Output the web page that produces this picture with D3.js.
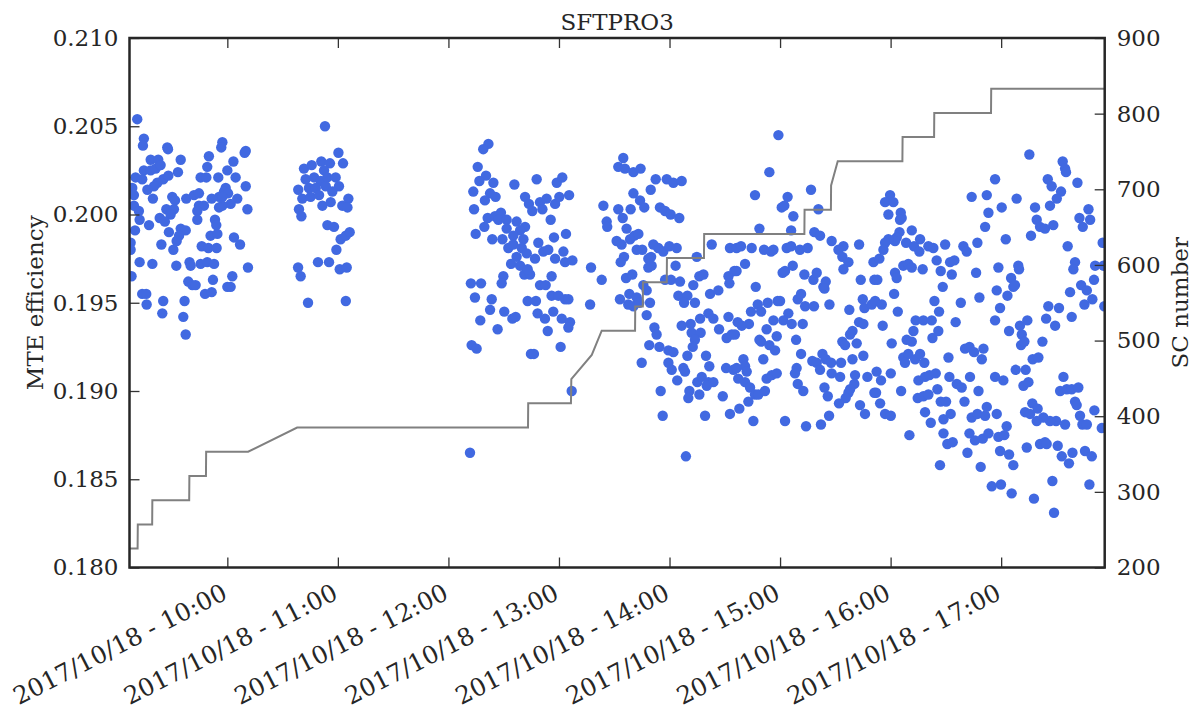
<!DOCTYPE html>
<html><head><meta charset="utf-8">
<script src="https://cdn.jsdelivr.net/npm/d3@7"></script>
<style>
body{margin:0;background:#fff}
svg{display:block}
text{font-family:"DejaVu Serif",serif;fill:#262626}
</style>
</head><body>
<svg id="chart" width="1195" height="716"></svg>
<script>
// ---------------- data ----------------
const chartTitle = "SFTPRO3";
const yLeftLabel = "MTE efficiency";
const yRightLabel = "SC number";
const timeDomain = [6.9, 536.2];           // minutes after 2017/10/18 09:00
const xTickHours = [10, 11, 12, 13, 14, 15, 16, 17];
const effTicks = [0.180, 0.185, 0.190, 0.195, 0.200, 0.205, 0.210];
const scTicks = [200, 300, 400, 500, 600, 700, 800, 900];

// SC number vs time [minute, SC]
const scSteps = [[6.9,225],[11.3,225],[11.4,257],[19.2,257],[19.3,289],[39.3,289],[39.4,321],[48.4,321],[48.5,353],[71.3,353],[97.9,385],[223.2,385],[223.3,417],[246.5,417],[246.7,449],[257.8,481],[263.2,513],[281.3,513],[281.4,545],[285.5,545],[285.6,577],[298.5,577],[298.6,609],[318.7,609],[318.8,641],[373.2,641],[373.3,673],[387.6,673],[387.7,705],[391.3,737],[426.4,737],[426.5,769],[443.6,769],[443.7,801],[474.5,801],[474.6,833],[536.2,833]];

// MTE efficiency vs time [minute, efficiency]
const mteSamples = [
[11.1,.2054],[14.7,.2043],[14.2,.2039],[27.4,.2038],[27.8,.2037],[57.3,.2041],[56.7,.2038],[70.0,.2036],[69.4,.2035],[34.7,.2031],
[18.4,.2031],[22.5,.2031],[50.0,.2033],[49.1,.2027],[63.3,.2030],[14.7,.2025],[18.4,.2025],[21.1,.2026],[23.8,.2028],[33.2,.2024],
[60.0,.2025],[10.2,.2021],[13.8,.2020],[45.5,.2021],[48.6,.2021],[55.1,.2021],[64.5,.2021],[25.2,.2020],[28.0,.2022],[22.0,.2018],
[20.2,.2016],[16.6,.2014],[8.4,.2015],[9.3,.2011],[70.0,.2016],[59.1,.2015],[58.2,.2013],[60.4,.2012],[55.5,.2010],[57.3,.2010],
[30.1,.2010],[31.6,.2008],[37.7,.2009],[41.9,.2011],[44.6,.2012],[51.5,.2009],[65.4,.2009],[19.6,.2009],[61.8,.2006],[9.3,.2005],
[12.0,.2002],[26.9,.2003],[31.0,.2003],[29.2,.2000],[44.6,.2005],[47.3,.2005],[43.7,.2002],[57.3,.2005],[55.5,.2004],[70.9,.2003],
[53.3,.1997],[54.0,.1994],[43.7,.1997],[23.3,.1998],[26.1,.1996],[12.4,.1997],[17.5,.1994],[9.9,.1991],[28.3,.1990],[34.7,.1992],
[37.4,.1991],[50.9,.1988],[54.6,.1989],[33.8,.1988],[32.5,.1985],[63.6,.1987],[66.9,.1983],[24.2,.1983],[7.5,.1984],[7.5,.1980],
[30.7,.1980],[46.1,.1982],[49.7,.1981],[54.2,.1981],[12.4,.1973],[19.3,.1972],[32.3,.1971],[39.5,.1973],[40.1,.1971],[45.5,.1972],
[49.1,.1973],[52.8,.1972],[71.2,.1970],[8.0,.1965],[38.8,.1962],[41.0,.1960],[42.8,.1960],[52.2,.1963],[62.7,.1965],[60.0,.1959],
[61.8,.1959],[47.9,.1955],[51.5,.1956],[13.8,.1955],[16.0,.1955],[16.2,.1949],[25.2,.1951],[24.7,.1944],[36.8,.1951],[36.1,.1942],
[37.4,.1932],
[113.0,.2050],[120.3,.2035],[122.8,.2029],[101.6,.2026],[105.8,.2028],[111.0,.2030],[115.7,.2029],[112.5,.2025],[102.5,.2020],[107.1,.2021],
[110.7,.2019],[114.3,.2021],[118.8,.2021],[98.5,.2014],[104.3,.2015],[108.0,.2015],[113.4,.2016],[120.6,.2016],[117.0,.2013],[100.7,.2009],
[105.2,.2010],[109.8,.2011],[111.6,.2005],[116.1,.2007],[122.4,.2005],[125.7,.2009],[125.2,.2004],[98.9,.2003],[100.2,.1999],[114.3,.1994],
[117.9,.1993],[121.5,.1986],[124.3,.1988],[126.4,.1990],[119.2,.1980],[98.4,.1970],[99.8,.1965],[109.2,.1973],[115.2,.1973],[121.0,.1969],
[124.8,.1970],[103.8,.1950],[124.3,.1951],
[201.7,.2040],[198.9,.2037],[195.9,.2027],[200.4,.2022],[196.8,.2019],[204.4,.2018],[215.8,.2017],[227.9,.2020],[238.8,.2018],[241.8,.2021],
[193.5,.2013],[202.6,.2012],[205.6,.2010],[199.8,.2008],[221.6,.2010],[223.7,.2006],[229.7,.2007],[231.0,.2003],[225.5,.2002],[233.3,.2009],
[237.9,.2006],[240.2,.2010],[245.5,.2011],[193.9,.2003],[201.3,.1998],[205.3,.1999],[208.5,.2001],[207.1,.1997],[211.6,.1997],[217.0,.1996],
[221.6,.1993],[218.9,.1991],[199.5,.1993],[194.8,.1989],[203.8,.1986],[209.3,.1986],[211.6,.1992],[215.2,.1988],[220.7,.1986],[235.5,.1997],
[237.3,.1987],[243.8,.1989],[228.8,.1984],[212.5,.1981],[215.2,.1983],[219.8,.1981],[231.5,.1979],[234.2,.1980],[217.0,.1976],[222.5,.1978],
[227.0,.1975],[237.9,.1975],[242.4,.1979],[243.3,.1973],[247.3,.1974],[214.0,.1972],[218.9,.1971],[221.2,.1966],[224.3,.1966],[223.0,.1969],
[209.8,.1965],[208.9,.1961],[236.0,.1965],[229.7,.1960],[232.8,.1960],[236.0,.1954],[239.7,.1954],[243.3,.1952],[245.1,.1952],[257.4,.1970],
[192.2,.1961],[197.7,.1961],[194.4,.1953],[203.5,.1952],[223.0,.1951],[227.5,.1951],[202.6,.1946],[210.3,.1945],[214.7,.1941],[216.5,.1942],
[228.4,.1944],[232.4,.1941],[236.9,.1945],[241.5,.1941],[246.0,.1939],[245.1,.1936],[197.3,.1940],[206.7,.1935],[233.9,.1934],[256.9,.1949],
[192.6,.1926],[195.3,.1924],[224.8,.1921],[226.4,.1921],[240.9,.1925],[246.9,.1900],[191.7,.1865],
[274.9,.2032],[272.2,.2027],[275.8,.2026],[280.4,.2024],[284.3,.2026],[292.5,.2020],[298.5,.2020],[302.1,.2018],[306.6,.2019],[289.8,.2014],
[280.4,.2012],[284.0,.2008],[286.3,.2004],[278.9,.2003],[294.8,.2004],[297.6,.2002],[300.6,.2000],[305.3,.1998],[272.2,.2003],[274.6,.1998],
[265.9,.1996],[266.2,.1993],[276.7,.1992],[278.6,.1986],[280.9,.1988],[283.1,.1989],[271.3,.1985],[274.0,.1983],[282.2,.1980],[285.2,.1980],
[291.2,.1983],[293.9,.1981],[296.6,.1979],[299.9,.1982],[303.9,.1981],[290.0,.1976],[288.5,.1975],[275.3,.1976],[273.5,.1973],[288.5,.1970],
[290.3,.1971],[303.3,.1971],[322.9,.1983],[332.8,.1981],[276.4,.1964],[279.8,.1966],[297.6,.1963],[300.8,.1963],[305.7,.1962],[285.8,.1960],
[287.6,.1957],[312.9,.1960],[316.2,.1965],[318.4,.1966],[314.8,.1976],[332.0,.1965],[332.5,.1961],[335.2,.1968],[322.0,.1955],[326.5,.1957],
[273.1,.1952],[278.2,.1955],[282.2,.1953],[277.6,.1949],[280.4,.1948],[283.6,.1950],[289.4,.1950],[304.8,.1954],[309.7,.1954],[307.9,.1950],
[313.8,.1950],[287.6,.1943],[291.8,.1936],[293.0,.1932],[289.0,.1926],[294.5,.1925],[299.4,.1923],[302.1,.1922],[306.6,.1937],[311.5,.1938],
[316.6,.1941],[321.1,.1944],[323.8,.1941],[332.0,.1942],[312.0,.1933],[316.9,.1933],[313.8,.1929],[312.6,.1925],[326.9,.1935],[331.0,.1930],
[333.8,.1932],[309.7,.1920],[319.8,.1920],[321.6,.1914],[284.9,.1916],[299.4,.1916],[301.2,.1912],[307.5,.1913],[308.4,.1911],[304.2,.1906],
[315.1,.1905],[317.5,.1908],[321.1,.1905],[323.8,.1905],[320.2,.1903],[295.2,.1900],[310.8,.1900],[310.2,.1896],[316.2,.1898],[328.9,.1897],
[330.7,.1913],[334.7,.1912],[296.3,.1886],[319.3,.1886],[332.8,.1887],[308.9,.1863],[264.1,.2005],[263.2,.1963],
[359.1,.2045],[354.2,.2024],[346.4,.2011],[364.1,.2010],[376.8,.2014],[360.9,.2004],[362.3,.2005],[367.2,.1999],[380.8,.2003],[348.8,.1992],
[366.0,.1991],[378.6,.1990],[381.7,.1988],[388.0,.1985],[394.4,.1982],[391.7,.1980],[393.8,.1976],[397.1,.1973],[394.4,.1969],[402.9,.1983],
[410.7,.1973],[336.4,.1981],[338.8,.1982],[344.6,.1981],[351.3,.1980],[355.1,.1979],[356.4,.1980],[363.6,.1981],[366.0,.1982],[370.8,.1980],
[375.0,.1981],[341.0,.1972],[336.4,.1968],[361.4,.1967],[362.7,.1968],[366.9,.1971],[373.2,.1966],[378.1,.1963],[379.9,.1967],[383.5,.1959],
[384.8,.1962],[384.1,.1958],[403.8,.1963],[411.2,.1963],[346.8,.1959],[347.9,.1949],[353.3,.1950],[344.2,.1945],[349.7,.1945],[358.7,.1951],
[360.0,.1951],[369.6,.1952],[371.4,.1955],[373.6,.1948],[378.4,.1948],[386.8,.1949],[397.6,.1946],[404.9,.1952],[405.8,.1947],[409.8,.1949],
[411.6,.1951],[364.5,.1944],[361.8,.1940],[366.3,.1938],[372.3,.1938],[356.4,.1940],[352.7,.1935],[343.1,.1938],[339.2,.1937],[337.0,.1939],
[335.5,.1932],[399.3,.1934],[398.0,.1932],[402.9,.1939],[405.2,.1938],[401.6,.1927],[393.8,.1928],[395.3,.1926],[348.8,.1929],[349.7,.1928],
[354.2,.1926],[357.3,.1923],[358.2,.1931],[368.7,.1929],[371.4,.1921],[350.9,.1918],[340.1,.1918],[341.0,.1914],[336.4,.1913],[341.9,.1911],
[337.3,.1907],[341.0,.1905],[343.7,.1902],[346.4,.1898],[348.2,.1898],[342.8,.1894],[337.9,.1890],[351.8,.1900],[352.7,.1907],[355.5,.1909],
[358.2,.1910],[369.0,.1913],[368.1,.1910],[369.6,.1904],[372.6,.1900],[377.5,.1917],[379.9,.1916],[381.7,.1912],[383.0,.1921],[384.8,.1918],
[387.7,.1916],[388.0,.1910],[393.1,.1916],[392.6,.1908],[399.3,.1918],[405.2,.1920],[400.7,.1909],[400.3,.1904],[398.0,.1901],[397.1,.1899],
[395.6,.1896],[392.0,.1893],[384.1,.1902],[385.9,.1897],[407.4,.1908],[411.2,.1899],[403.4,.1892],[406.1,.1887],[345.5,.1883],[362.7,.1883],
[374.1,.1880],[382.2,.1881],[386.6,.1886],
[419.7,.2011],[417.0,.2007],[421.5,.2007],[418.8,.2000],[425.5,.2001],[426.0,.1998],[425.1,.1997],[431.5,.1991],[424.8,.1990],[423.3,.1987],
[422.4,.1985],[418.8,.1986],[417.0,.1984],[416.1,.1980],[428.4,.1984],[432.7,.1982],[436.0,.1986],[435.6,.1979],[440.5,.1982],[443.2,.1981],
[449.6,.1983],[459.5,.1982],[461.3,.1979],[467.1,.1984],[464.0,.2010],[472.2,.2011],[473.1,.2001],[471.3,.1993],[413.9,.1975],[412.8,.1963],
[422.4,.1967],[423.3,.1964],[426.9,.1971],[429.6,.1972],[431.5,.1970],[437.4,.1969],[445.0,.1974],[447.2,.1968],[452.3,.1973],[454.6,.1974],
[453.2,.1966],[448.3,.1959],[466.4,.1967],[421.9,.1955],[415.2,.1949],[423.9,.1945],[443.8,.1951],[446.3,.1945],[458.1,.1950],[468.2,.1953],
[415.7,.1937],[433.6,.1940],[437.8,.1940],[442.3,.1940],[432.4,.1934],[428.7,.1929],[431.5,.1928],[442.7,.1930],[445.9,.1934],[455.3,.1939],
[420.6,.1927],[426.9,.1919],[429.6,.1921],[427.8,.1916],[433.3,.1918],[436.0,.1921],[438.3,.1916],[451.4,.1919],[460.4,.1924],[462.8,.1925],
[465.3,.1922],[470.4,.1924],[469.5,.1918],[412.4,.1911],[414.8,.1906],[420.1,.1910],[412.1,.1899],[414.3,.1893],[417.0,.1887],[420.1,.1886],
[425.7,.1900],[435.1,.1906],[438.7,.1908],[441.1,.1909],[444.5,.1910],[451.9,.1908],[434.7,.1896],[437.8,.1897],[440.5,.1898],[445.4,.1901],
[447.2,.1894],[450.1,.1894],[455.9,.1904],[458.6,.1902],[463.1,.1908],[467.7,.1900],[460.1,.1894],[438.7,.1888],[441.8,.1882],[448.7,.1884],
[452.6,.1887],[472.2,.1891],[464.0,.1885],[467.1,.1887],[471.3,.1886],[430.2,.1875],[448.7,.1876],[450.8,.1870],[453.7,.1871],[462.8,.1876],
[465.8,.1872],[470.0,.1873],[473.1,.1876],[461.7,.1865],[446.8,.1858],[468.9,.1857],[474.9,.1846],
[495.3,.2034],[513.4,.2030],[514.7,.2026],[515.2,.2024],[505.3,.2020],[507.4,.2016],[521.4,.2018],[512.5,.2013],[510.2,.2009],[506.5,.2005],
[498.4,.2004],[488.4,.2009],[480.3,.2004],[476.7,.2020],[499.3,.1997],[501.1,.1993],[503.8,.1992],[508.3,.1994],[496.2,.1988],[527.4,.2003],
[522.5,.1998],[528.3,.1997],[524.3,.1993],[482.5,.1986],[516.1,.1982],[535.1,.1984],[478.5,.1970],[489.3,.1971],[489.7,.1969],[485.4,.1964],
[486.6,.1959],[487.5,.1960],[477.6,.1957],[483.4,.1954],[479.4,.1947],[476.7,.1940],[484.3,.1934],[490.2,.1937],[494.2,.1940],[491.2,.1932],
[490.8,.1926],[492.6,.1928],[502.4,.1928],[504.4,.1941],[509.3,.1937],[505.6,.1948],[511.4,.1947],[518.3,.1942],[517.4,.1956],[525.2,.1949],
[529.5,.1952],[530.4,.1963],[523.4,.1960],[526.5,.1957],[520.1,.1973],[519.2,.1969],[531.0,.1971],[535.5,.1971],[536.0,.1948],[497.1,.1918],
[500.2,.1919],[487.9,.1912],[493.3,.1912],[492.1,.1903],[494.8,.1905],[476.7,.1908],[481.2,.1906],[513.8,.1908],[512.0,.1900],[515.6,.1901],
[518.3,.1901],[521.9,.1902],[520.1,.1894],[521.0,.1892],[522.8,.1886],[530.6,.1889],[524.1,.1881],[526.5,.1881],[534.6,.1879],[514.7,.1881],
[509.8,.1883],[506.5,.1883],[502.9,.1885],[499.3,.1883],[496.9,.1893],[499.8,.1890],[493.0,.1888],[495.7,.1887],[477.6,.1887],[483.0,.1880],
[478.5,.1874],[481.7,.1875],[493.9,.1868],[501.1,.1870],[503.8,.1871],[504.7,.1870],[510.7,.1869],[512.9,.1863],[516.8,.1859],[518.7,.1865],
[525.5,.1866],[529.2,.1863],[479.4,.1866],[484.3,.1864],[486.6,.1858],[479.9,.1847],[485.7,.1842],[497.8,.1839],[507.8,.1849],[527.9,.1847],
[508.7,.1831]
];

// ---------------- drawing ----------------
const plot = {left: 129.5, right: 1104.7, top: 38, bottom: 567.5};
const base = new Date(2017, 9, 18, 9, 0, 0);
const toDate = m => new Date(base.getTime() + m * 60000);

const svg = d3.select("#chart");
const x = d3.scaleTime().domain(timeDomain.map(toDate)).range([plot.left, plot.right]);
const yL = d3.scaleLinear().domain([0.180, 0.210]).range([plot.bottom, plot.top]);
const yR = d3.scaleLinear().domain([200, 900]).range([plot.bottom, plot.top]);

svg.append("clipPath").attr("id", "clip").append("rect")
  .attr("x", plot.left).attr("y", plot.top)
  .attr("width", plot.right - plot.left).attr("height", plot.bottom - plot.top);

const FS = 23;
const XFS = 24.5;

// scatter (primary axes)
svg.append("g").attr("clip-path", "url(#clip)")
  .selectAll("circle").data(mteSamples).join("circle")
  .attr("cx", d => x(toDate(d[0])))
  .attr("cy", d => yL(d[1]))
  .attr("r", 5.2)
  .attr("fill", "#4169e1");

// SC line (twin axes, drawn on top)
const line = d3.line().x(d => x(toDate(d[0]))).y(d => yR(d[1]));
svg.append("path").attr("clip-path", "url(#clip)")
  .datum(scSteps).attr("d", line)
  .attr("fill", "none").attr("stroke", "#808080").attr("stroke-width", 2);

const xTicks = xTickHours.map(h => new Date(2017, 9, 18, h, 0, 0));
const fmt = d3.timeFormat("%Y/%m/%d - %H:%M");

function styleAxis(g) {
  g.select(".domain").remove();
  g.selectAll(".tick line").attr("stroke", "#333").attr("stroke-width", 1.3);
  g.selectAll("text").attr("font-family", "DejaVu Serif").attr("font-size", FS).attr("fill", "#262626");
}

const gB = svg.append("g").attr("transform", `translate(0,${plot.bottom})`)
  .call(d3.axisBottom(x).tickValues(xTicks).tickFormat(fmt).tickSize(-10).tickPadding(0))
  .call(styleAxis);
gB.selectAll("text")
  .attr("font-size", XFS)
  .attr("text-anchor", "end").attr("x", 0).attr("y", 0).attr("dy", "0.72em")
  .attr("transform", "translate(-7,15) rotate(-27)");

svg.append("g").attr("transform", `translate(0,${plot.top})`)
  .call(d3.axisTop(x).tickValues(xTicks).tickFormat("").tickSize(-10))
  .call(styleAxis);

svg.append("g").attr("transform", `translate(${plot.left},0)`)
  .call(d3.axisLeft(yL).tickValues(effTicks).tickFormat(d3.format(".3f")).tickSize(-10).tickPadding(11))
  .call(styleAxis);

svg.append("g").attr("transform", `translate(${plot.right},0)`)
  .call(d3.axisRight(yR).tickValues(scTicks).tickFormat(d3.format("d")).tickSize(-10).tickPadding(12))
  .call(styleAxis);

// frame
svg.append("rect")
  .attr("x", plot.left).attr("y", plot.top)
  .attr("width", plot.right - plot.left).attr("height", plot.bottom - plot.top)
  .attr("fill", "none").attr("stroke", "#262626").attr("stroke-width", 2.5);

// titles
svg.append("text").attr("x", (plot.left + plot.right) / 2).attr("y", 30)
  .attr("text-anchor", "middle").attr("font-size", FS).text(chartTitle);

svg.append("text").attr("transform", `translate(43,${(plot.top + plot.bottom) / 2}) rotate(-90)`)
  .attr("text-anchor", "middle").attr("font-size", FS).text(yLeftLabel);

svg.append("text").attr("transform", `translate(1171,${(plot.top + plot.bottom) / 2}) rotate(-90)`)
  .attr("text-anchor", "middle").attr("dy", "0.72em").attr("font-size", FS).text(yRightLabel);
</script>
</body></html>
